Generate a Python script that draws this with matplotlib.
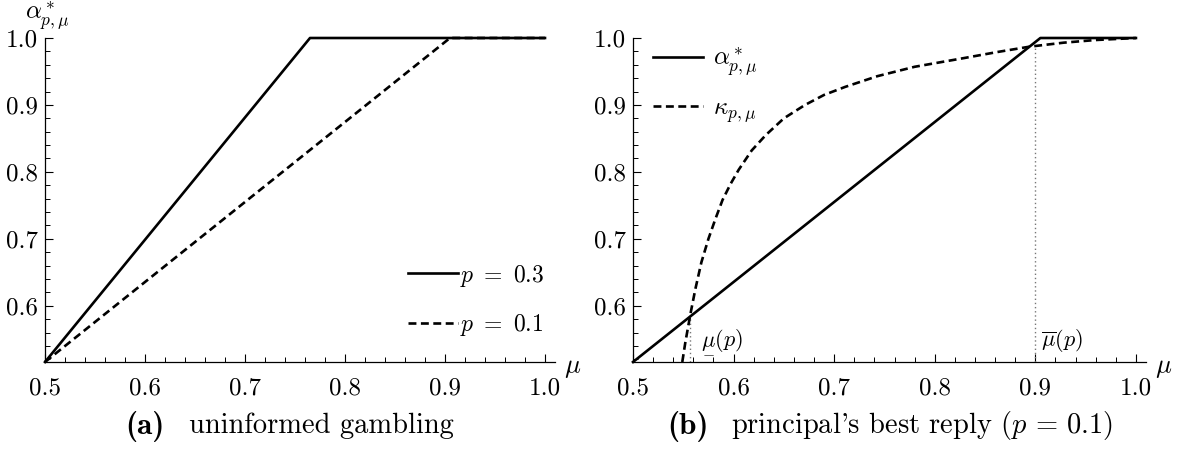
import matplotlib
matplotlib.use('Agg')
import matplotlib.pyplot as plt
from matplotlib.ticker import MultipleLocator

plt.rcParams['font.family'] = 'serif'
plt.rcParams['font.serif'] = ['cmr10']
plt.rcParams['mathtext.fontset'] = 'cm'
plt.rcParams['axes.formatter.use_mathtext'] = True

# panel (a): uninformed gambling
mu_a03 = [0.5, 0.765, 1.0]
alpha_a03 = [0.516, 1.0, 1.0]
mu_a01 = [0.5, 0.905, 1.0]
alpha_a01 = [0.516, 1.0, 1.0]

# panel (b): principal's best reply (p = 0.1)
mu_alpha = [0.5, 0.905, 1.0]
alpha_b = [0.516, 1.0, 1.0]
mu_kappa = [0.549, 0.552, 0.557, 0.562, 0.568, 0.575, 0.582, 0.589, 0.597, 0.605,
            0.618, 0.632, 0.650, 0.671, 0.690, 0.711, 0.743, 0.780, 0.829, 0.862,
            0.894, 0.928, 0.960, 1.0]
kappa_b = [0.516, 0.545, 0.587, 0.625, 0.665, 0.700, 0.730, 0.758, 0.782, 0.803,
           0.832, 0.855, 0.880, 0.900, 0.915, 0.927, 0.943, 0.957, 0.970, 0.979,
           0.987, 0.993, 0.997, 1.0]
mu_low, y_low = 0.557, 0.587
mu_high, y_high = 0.90, 0.987

xticks = [0.5, 0.6, 0.7, 0.8, 0.9, 1.0]
yticks = [0.6, 0.7, 0.8, 0.9, 1.0]

ymin = 0.516
lw = 1.9
dash = (3.0, 1.7)

fig = plt.figure(figsize=(11.8, 4.49), dpi=100)
axa = fig.add_axes([45/1180, 1-362/449, 510/1180, 324/449])
axb = fig.add_axes([633/1180, 1-362/449, 513/1180, 324/449])

for ax in (axa, axb):
    ax.set_xlim(0.5, 1.01)
    ax.set_ylim(ymin, 1.0)
    ax.spines['top'].set_visible(False)
    ax.spines['right'].set_visible(False)
    ax.spines['left'].set_linewidth(0.9)
    ax.spines['bottom'].set_linewidth(0.9)
    ax.xaxis.set_minor_locator(MultipleLocator(0.02))
    ax.yaxis.set_minor_locator(MultipleLocator(0.02))
    ax.set_xticks(xticks)
    ax.set_xticklabels(['%.1f' % v for v in xticks], fontsize=18)
    ax.set_yticks(yticks)
    ax.set_yticklabels(['%.1f' % v for v in yticks], fontsize=18)
    ax.tick_params(which='major', direction='in', length=6, width=0.8)
    ax.tick_params(which='minor', direction='in', length=3.5, width=0.7)
    ax.tick_params(axis='x', pad=11)
    ax.tick_params(axis='y', pad=5)
    ax.text(1.017, -0.02, r'$\mu$', transform=ax.transAxes, fontsize=19,
            ha='left', va='center')

axa.text(-0.04, 1.07, r'$\alpha^*_{p,\mu}$', transform=axa.transAxes,
         fontsize=18, ha='left', va='center')

# left panel
axa.plot(mu_a03, alpha_a03, color='black', lw=lw, label=r'$p\ =\ 0.3$', clip_on=False)
axa.plot(mu_a01, alpha_a01, color='black', lw=lw, dashes=dash, label=r'$p\ =\ 0.1$', clip_on=False)
axa.legend(loc='center left', bbox_to_anchor=(0.67, 0.19), frameon=False, fontsize=17,
           handlelength=2.1, handletextpad=0.1, labelspacing=1.0)

# right panel
axb.vlines([mu_low], ymin, [y_low], colors='#777777', linestyles=(0, (1, 2)), lw=1.0)
axb.vlines([mu_high], ymin, [y_high], colors='#777777', linestyles=(0, (1, 2)), lw=1.0)
axb.plot(mu_alpha, alpha_b, color='black', lw=lw, label=r'$\alpha^*_{p,\mu}$', clip_on=False)
axb.plot(mu_kappa, kappa_b, color='black', lw=lw, dashes=dash, label=r'$\kappa_{p,\mu}$', clip_on=False)
axb.legend(loc='center left', bbox_to_anchor=(-0.005, 0.855), frameon=False, fontsize=18,
           handlelength=2.0, handletextpad=0.4, labelspacing=0.75)
axb.text(0.568, 0.548, r'$\underset{-}{\mu}(p)$', fontsize=16, ha='left', va='center')
axb.text(0.906, 0.548, r'$\overline{\mu}(p)$', fontsize=16, ha='left', va='center')

# captions
fig.text(125/1180, 1-426/449, '(a)', family='cmb10', fontsize=22.5, ha='left', va='center')
fig.text(189/1180, 1-426/449, 'uninformed gambling', fontsize=20.5, ha='left', va='center')
fig.text(667/1180, 1-426/449, '(b)', family='cmb10', fontsize=22.5, ha='left', va='center')
fig.text(731/1180, 1-426/449, r"principal's best reply ($p\,=\,0.1$)", fontsize=20.5,
         ha='left', va='center')

fig.savefig('out.png', dpi=100)
